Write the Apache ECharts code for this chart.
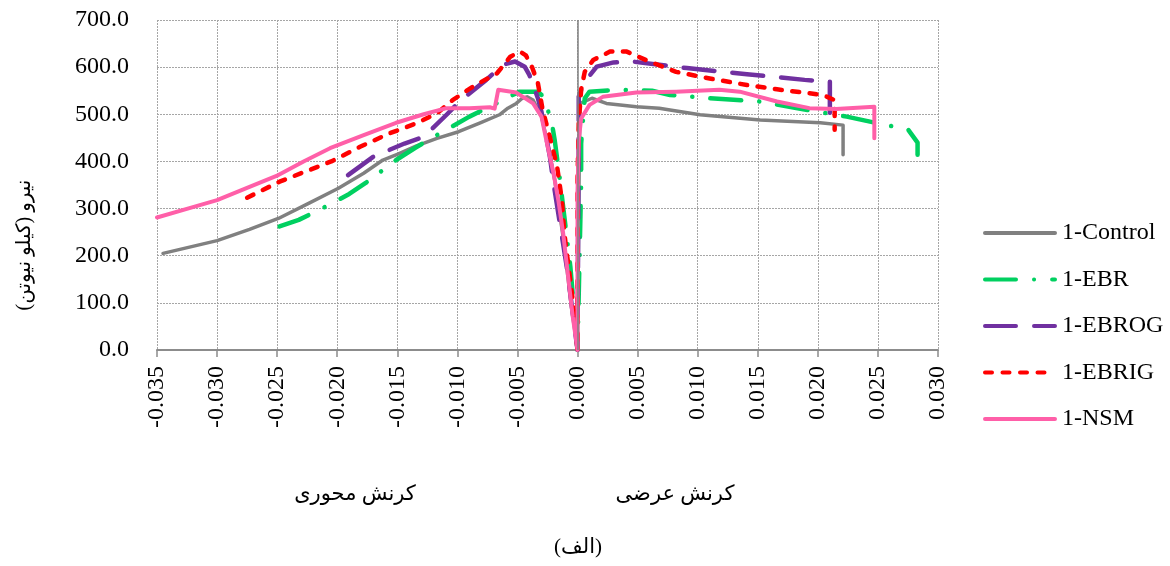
<!DOCTYPE html>
<html>
<head>
<meta charset="utf-8">
<script src="https://cdn.jsdelivr.net/npm/echarts@6/dist/echarts.min.js"></script>
<style>
  html, body { margin: 0; padding: 0; background: #fff; }
  #main { width: 1170px; height: 566px; }
</style>
</head>
<body>
<div id="main"></div>
<script>
// کرنش - نیرو  (strain, force kN)
const seriesNames = ['1-Control', '1-EBR', '1-EBROG', '1-EBRIG', '1-NSM'];
const yTicks = [0, 100, 200, 300, 400, 500, 600, 700];

const control = [
  [-0.0345, 205], [-0.0300, 232], [-0.0273, 256], [-0.0249, 279], [-0.0223, 312],
  [-0.0199, 343], [-0.0178, 375], [-0.0162, 403], [-0.0149, 416], [-0.0134, 433],
  [-0.0117, 449], [-0.0099, 463], [-0.0081, 482], [-0.0065, 499], [-0.0058, 513],
  [-0.0051, 523], [-0.0046, 534], [-0.0042, 537], [-0.0037, 530], [-0.0030, 495],
  [-0.0025, 440], [-0.0019, 360], [-0.0012, 240], [-0.0005, 90], [0, 0],
  [0.0001, 300], [0.0002, 523], [0.0012, 534], [0.0024, 523], [0.0049, 516],
  [0.0068, 513], [0.0077, 509], [0.0102, 499], [0.0152, 488], [0.0202, 482],
  [0.0221, 477], [0.0221, 414]
];
const ebr = [
  [-0.0248, 262], [-0.0232, 276], [-0.0205, 310], [-0.0190, 331], [-0.0176, 355],
  [-0.0151, 403], [-0.0135, 429], [-0.0117, 456], [-0.0090, 495], [-0.0070, 520],
  [-0.0058, 536], [-0.0048, 548], [-0.0033, 548], [-0.0030, 541], [-0.0022, 491],
  [-0.0019, 445], [-0.0015, 368], [-0.0011, 283], [-0.0006, 177], [0, 0],
  [0.0003, 354], [0.0003, 438], [0.0006, 534], [0.0010, 548], [0.0035, 552],
  [0.0062, 550], [0.0077, 541], [0.0110, 534], [0.0152, 527], [0.0182, 513],
  [0.0224, 495], [0.0257, 477], [0.0275, 468], [0.0283, 440], [0.0283, 414]
];
const ebrog = [
  [-0.0191, 371], [-0.0170, 410], [-0.0144, 438], [-0.0128, 452], [-0.0109, 499],
  [-0.0097, 530], [-0.0076, 573], [-0.0062, 605], [-0.0052, 612], [-0.0044, 601],
  [-0.0040, 583], [-0.0033, 534], [-0.0030, 505], [-0.0023, 410], [-0.0020, 354],
  [-0.0009, 177], [0, 0], [0.0001, 481], [0.0001, 537], [0.0005, 566],
  [0.0016, 601], [0.0030, 610], [0.0045, 612], [0.0068, 605], [0.0091, 598],
  [0.0141, 585], [0.0189, 573], [0.0210, 569], [0.0210, 502]
];
const ebrig = [
  [-0.0275, 323], [-0.0248, 357], [-0.0223, 382], [-0.0205, 400], [-0.0181, 431],
  [-0.0156, 460], [-0.0134, 481], [-0.0117, 502], [-0.0104, 530], [-0.0087, 559],
  [-0.0067, 587], [-0.0056, 622], [-0.0048, 633], [-0.0043, 625], [-0.0038, 601],
  [-0.0033, 566], [-0.0029, 509], [-0.0023, 452], [-0.0017, 389], [-0.0013, 318],
  [-0.0011, 248], [-0.0004, 106], [0, 0], [0, 361], [0.0001, 481],
  [0.0003, 552], [0.0006, 590], [0.0013, 615], [0.0027, 633], [0.0041, 633],
  [0.0057, 615], [0.0074, 598], [0.0082, 590], [0.0110, 576], [0.0141, 562],
  [0.0166, 553], [0.0204, 541], [0.0214, 530], [0.0214, 467]
];
const nsm = [
  [-0.0350, 281], [-0.0323, 301], [-0.0300, 318], [-0.0273, 346], [-0.0249, 371],
  [-0.0228, 400], [-0.0206, 428], [-0.0178, 456], [-0.0151, 482], [-0.0128, 500],
  [-0.0109, 513], [-0.0090, 513], [-0.0073, 515], [-0.0069, 512], [-0.0066, 552],
  [-0.0051, 546], [-0.0037, 523], [-0.0030, 495], [-0.0026, 445], [-0.0020, 375],
  [-0.0016, 318], [-0.0012, 248], [-0.0004, 71], [0, 0], [0, 339],
  [0.0001, 445], [0.0003, 491], [0.0010, 520], [0.0021, 537], [0.0049, 546],
  [0.0082, 548], [0.0118, 552], [0.0135, 548], [0.0166, 527], [0.0193, 513],
  [0.0215, 511], [0.0247, 516], [0.0247, 449]
];

const font = "'Liberation Serif', 'Times New Roman', 'DejaVu Sans', serif";
const myChart = echarts.init(document.getElementById('main'));

const line = (name, data, color, width, type) => ({
  name: name,
  type: 'line',
  data: data,
  symbol: 'none',
  smooth: false,
  lineStyle: { color: color, width: width, type: type, cap: 'round', join: 'round' },
  itemStyle: { color: color },
});

const option = {
  animation: false,
  backgroundColor: '#fff',
  grid: { left: 157, right: 232, top: 20, bottom: 216 },
  xAxis: {
    type: 'value',
    min: -0.035,
    max: 0.03,
    interval: 0.005,
    axisLine: { onZero: false, lineStyle: { color: '#8c8c8c', width: 2 } },
    axisTick: { show: true, length: 7, lineStyle: { color: '#8c8c8c', width: 1.5 } },
    axisLabel: {
      rotate: 90,
      margin: 16,
      color: '#000',
      fontFamily: font,
      fontSize: 24,
      formatter: (v) => v.toFixed(3),
    },
    splitLine: { show: true, lineStyle: { color: '#a6a6a6', type: [2, 1], width: 1 } },
  },
  yAxis: {
    type: 'value',
    min: yTicks[0],
    max: yTicks[yTicks.length - 1],
    interval: 100,
    axisLine: { show: false, onZero: false },
    axisTick: { show: false },
    axisLabel: {
      margin: 28,
      color: '#000',
      fontFamily: font,
      fontSize: 24,
      formatter: (v) => v.toFixed(1),
    },
    splitLine: { show: true, lineStyle: { color: '#a6a6a6', type: [2, 1], width: 1 } },
  },
  legend: {
    orient: 'vertical',
    left: 978,
    top: 216,
    itemWidth: 70,
    itemHeight: 14,
    itemGap: 22.5,
    itemStyle: { opacity: 0 },
    lineStyle: { width: 4, cap: 'round' },
    data: seriesNames,
    textStyle: { color: '#000', fontFamily: font, fontSize: 24, padding: [0, 0, 0, 2] },
  },
  graphic: [
    {
      type: 'text', x: 25, y: 245, rotation: Math.PI / 2,
      style: { text: 'نیرو (کیلو نیوتن)', fill: '#000', font: '20px ' + font, textAlign: 'center', textVerticalAlign: 'middle' },
    },
    {
      type: 'text', x: 355, y: 494,
      style: { text: 'کرنش محوری', fill: '#000', font: '21px ' + font, textAlign: 'center', textVerticalAlign: 'middle' },
    },
    {
      type: 'text', x: 675, y: 494,
      style: { text: 'کرنش عرضی', fill: '#000', font: '21px ' + font, textAlign: 'center', textVerticalAlign: 'middle' },
    },
    {
      type: 'text', x: 578, y: 547,
      style: { text: '(الف)', fill: '#000', font: '21px ' + font, textAlign: 'center', textVerticalAlign: 'middle' },
    },
  ],
  series: [
    Object.assign(line(seriesNames[0], control, '#808080', 3.5, 'solid'), {
      markLine: {
        silent: true,
        symbol: 'none',
        label: { show: false },
        lineStyle: { color: '#808080', type: 'solid', width: 1.5 },
        data: [{ xAxis: 0 }],
      },
    }),
    line(seriesNames[1], ebr, '#00d060', 4.5, [31, 18, 0.1, 18]),
    line(seriesNames[2], ebrog, '#7030a0', 4.5, [31, 18]),
    line(seriesNames[3], ebrig, '#ff0000', 4.5, [7, 10.5]),
    line(seriesNames[4], nsm, '#ff5fa8', 4, 'solid'),
  ],
};

option && myChart.setOption(option);
</script>
</body>
</html>
